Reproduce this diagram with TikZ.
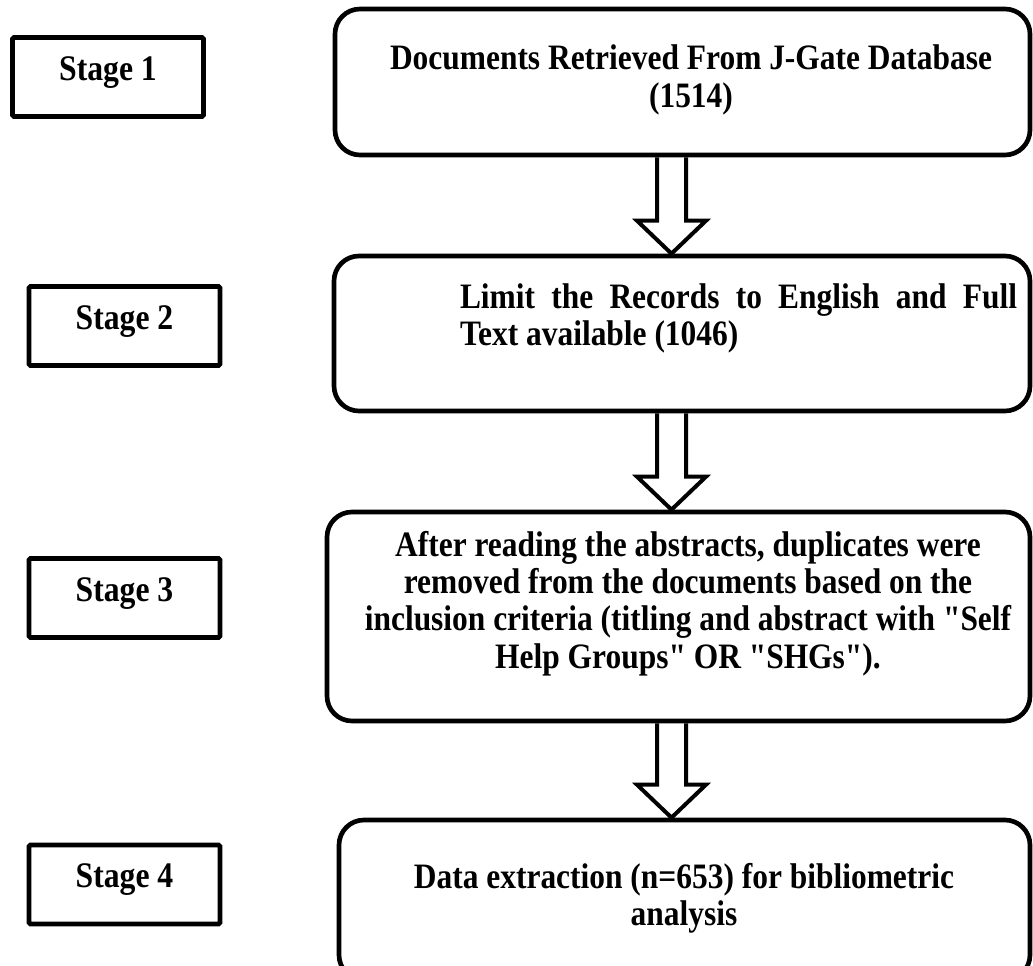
\documentclass[tikz,border=0pt]{standalone}
\usepackage{fontspec}
\usepackage{tikz}
\usetikzlibrary{calc, positioning}
\newfontfamily\flowfam[FakeStretch=0.88]{Liberation Serif}
\newfontfamily\stagefam[FakeStretch=0.88]{Liberation Serif}
\newcommand{\flowfont}{\flowfam\bfseries\fontsize{26.8pt}{28pt}\selectfont}
\newcommand{\stagefont}{\stagefam\bfseries\fontsize{27pt}{30pt}\selectfont}
\tikzset{
stagebox/.style={draw, line width=3.5pt, rounded corners=1pt, minimum width=143.25pt, minimum height=59.25pt, font=\stagefont, text height=20pt, text depth=15pt},
flowbox/.style={draw, line width=3.5pt, rounded corners=18.75pt, inner sep=0pt},
flowtext/.style={font=\flowfont, align=center},
fatarrow/.style={draw, line width=3pt, line join=miter}
}
\newcommand{\fatarrow}[2]{
\draw[fatarrow] ($(ax |- #1.south)+(-14.5,0)$) -- ($(ax |- #2.north)+(-14.5,-33)$) -- ++(-20,0) -- (ax |- #2.north) -- ($(ax |- #2.north)+(34.5,-33)$) -- ++(-20,0) -- ($(ax |- #1.south)+(14.5,0)$);
}
\begin{document}
\begin{tikzpicture}[x=0.75pt,y=-0.75pt]
\useasboundingbox (0,0) rectangle (1033,966);
\clip (0,0) rectangle (1033,966);
\coordinate (ax) at (671.5,0);

\node[stagebox] (s1) at (108,77) {Stage 1};
\node[stagebox] (s2) at (124.5,326) {Stage 2};
\node[stagebox] (s3) at (124.5,598) {Stage 3};
\node[stagebox] (s4) at (124.5,884.5) {Stage 4};

\node[flowbox, minimum width=521.25pt, minimum height=109.5pt] (b1) at (682.5,82) {};
\node[flowbox, minimum width=522pt, minimum height=116.25pt] (b2) at (682,333.5) {};
\node[flowbox, minimum width=527.25pt, minimum height=156.75pt] (b3) at (678.5,616.5) {};
\node[flowbox, minimum width=518.25pt, minimum height=120pt] (b4) at (684.5,900) {};

\node[flowtext] (t1) at (691,80) {Documents Retrieved From J-Gate Database\\(1514)};
\node[flowtext, text width=417.75pt, align=justify] (t2) at (738.5,318.5) {Limit the Records to English and Full\linebreak Text available (1046)};
\node[flowtext] (t3) at (688,603.5) {After reading the abstracts, duplicates were\\removed from the documents based on the\\inclusion criteria (titling and abstract with "Self\\Help Groups" OR "SHGs").};
\node[flowtext] (t4) at (684,898.5) {Data extraction (n=653) for bibliometric\\analysis};

\fatarrow{b1}{b2}
\fatarrow{b2}{b3}
\fatarrow{b3}{b4}
\end{tikzpicture}
\end{document}
